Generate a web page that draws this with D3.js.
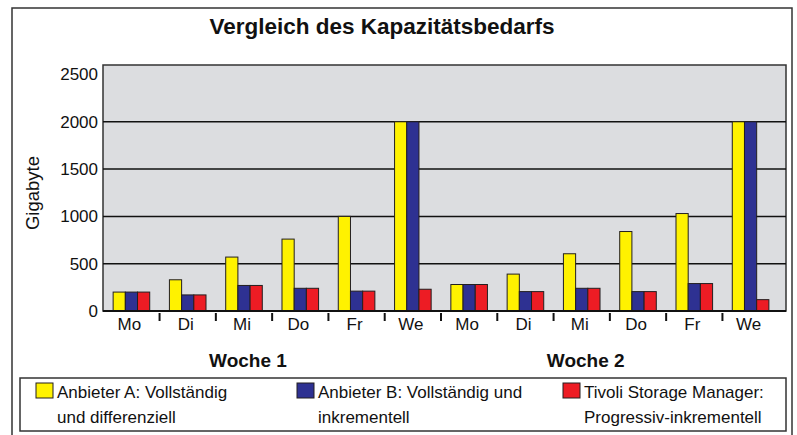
<!DOCTYPE html>
<html>
<head>
<meta charset="utf-8">
<script src="https://cdn.jsdelivr.net/npm/d3@7"></script>
<style>
    body { margin: 0; background: #fff; }
    text { font-family: "Liberation Sans", Arial, sans-serif; fill: #111; }
</style>
</head>
<body>
<svg id="chart" width="797" height="435"></svg>
<script>
const days = ["Mo", "Di", "Mi", "Do", "Fr", "We"]
const weeks = ["Woche 1", "Woche 2"]
const anbieterA = [200, 330, 570, 760, 1000, 2000, 280, 390, 605, 840, 1030, 2000]
const anbieterB = [200, 170, 270, 240, 210, 2000, 280, 205, 240, 205, 290, 2000]
const tivoli = [200, 170, 270, 240, 210, 230, 280, 205, 240, 205, 290, 120]
const yTicks = [0, 500, 1000, 1500, 2000, 2500]
const seriesNames = ["a", "b", "t"]
const legendLines = [
    ["Anbieter A: Vollständig", "und differenziell"],
    ["Anbieter B: Vollständig und", "inkrementell"],
    ["Tivoli Storage Manager:", "Progressiv-inkrementell"]
]
const colors = ["#fff200", "#2e3192", "#ed1c24"]

// one category per day of each week
let categories = []
weeks.forEach((w, wi) => days.forEach((d, di) => {
    let i = wi * days.length + di
    categories.push({ key: w + d, week: w, day: d, a: anbieterA[i], b: anbieterB[i], t: tivoli[i] })
}))

const svg = d3.select("#chart")
const plot = { left: 103, right: 786, top: 65, bottom: 311 }

// outer frame
svg.append("rect").attr("x", 12).attr("y", 8).attr("width", 780).attr("height", 440)
    .attr("fill", "none").attr("stroke", "#333").attr("stroke-width", 1.5)

svg.append("text").attr("x", 382).attr("y", 34).attr("text-anchor", "middle")
    .attr("font-size", 22.5).attr("font-weight", "bold").text("Vergleich des Kapazitätsbedarfs")

let scX = d3.scaleBand().domain(categories.map(d => d.key)).range([plot.left, 779])
    .paddingInner(0.35).paddingOuter(0.18)
let scS = d3.scaleBand().domain(seriesNames).range([0, scX.bandwidth()])
let scY = d3.scaleLinear().domain([0, 2600]).range([plot.bottom, plot.top])
let scC = d3.scaleOrdinal().domain(seriesNames).range(colors)

svg.append("rect").attr("x", plot.left).attr("y", plot.top)
    .attr("width", plot.right - plot.left).attr("height", plot.bottom - plot.top)
    .attr("fill", "#dcdde0").attr("stroke", "#333").attr("stroke-width", 1.5)

// gridlines
svg.append("g").selectAll("line").data(yTicks.filter(d => d > 0 && d < 2500)).enter().append("line")
    .attr("x1", plot.left).attr("x2", plot.right)
    .attr("y1", d => scY(d)).attr("y2", d => scY(d))
    .attr("stroke", "#111").attr("stroke-width", 1.5)

// y axis labels
let yAxis = svg.append("g").attr("transform", `translate(${plot.left},0)`)
    .call(d3.axisLeft(scY).tickValues(yTicks).tickFormat(d3.format("d")).tickSize(0).tickPadding(5))
yAxis.select(".domain").remove()
yAxis.selectAll("text").attr("font-size", 17).attr("font-family", null).attr("fill", "#111")

svg.append("text").attr("transform", `translate(39,193) rotate(-90)`)
    .attr("text-anchor", "middle").attr("font-size", 18.5).text("Gigabyte")

// bars
let groups = svg.append("g").selectAll("g").data(categories).enter().append("g")
    .attr("transform", d => `translate(${scX(d.key)},0)`)
groups.selectAll("rect").data(d => seriesNames.map(s => ({ s: s, v: d[s] }))).enter().append("rect")
    .attr("x", d => scS(d.s)).attr("width", scS.bandwidth())
    .attr("y", d => scY(d.v)).attr("height", d => scY(0) - scY(d.v))
    .attr("fill", d => scC(d.s)).attr("stroke", "#231f20").attr("stroke-width", 1)

// x axis
svg.append("line").attr("x1", plot.left).attr("x2", plot.right)
    .attr("y1", plot.bottom).attr("y2", plot.bottom).attr("stroke", "#111").attr("stroke-width", 2)

let step = scX.step()
let gap = step - scX.bandwidth()
svg.append("g").selectAll("line").data(categories.slice(1)).enter().append("line")
    .attr("x1", d => scX(d.key) - gap / 2).attr("x2", d => scX(d.key) - gap / 2)
    .attr("y1", plot.bottom + 2).attr("y2", plot.bottom + 10)
    .attr("stroke", "#111").attr("stroke-width", 2)

svg.append("g").selectAll("text").data(categories).enter().append("text")
    .attr("x", d => scX(d.key) + scX.bandwidth() / 2 - 2).attr("y", 330)
    .attr("text-anchor", "middle").attr("font-size", 17).text(d => d.day)

svg.append("g").selectAll("text").data(weeks).enter().append("text")
    .attr("x", w => scX(w + "Mi") + scX.bandwidth() / 2 + 4).attr("y", 367)
    .attr("text-anchor", "middle").attr("font-size", 19).attr("font-weight", "bold").text(w => w)

// legend
let legend = svg.append("g")
legend.append("rect").attr("x", 20).attr("y", 378).attr("width", 766).attr("height", 53)
    .attr("fill", "none").attr("stroke", "#333").attr("stroke-width", 1.5)
let legX = [36, 297, 563]
let items = legend.selectAll("g.item").data(seriesNames).enter().append("g")
    .attr("class", "item").attr("transform", (d, i) => `translate(${legX[i]},0)`)
items.append("rect").attr("x", 0).attr("y", 383).attr("width", 17).attr("height", 15)
    .attr("fill", d => scC(d)).attr("stroke", "#231f20").attr("stroke-width", 1)
items.each(function (d, i) {
    d3.select(this).selectAll("text").data(legendLines[i]).enter().append("text")
        .attr("x", 21).attr("y", (l, j) => 397.5 + j * 25)
        .attr("font-size", 17).text(l => l)
})
</script>
</body>
</html>
